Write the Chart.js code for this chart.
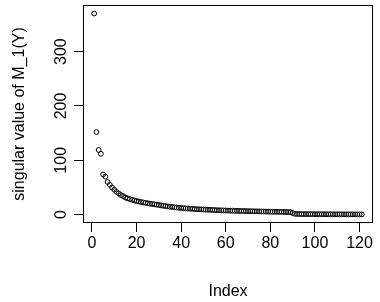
<!DOCTYPE html>
<html>
<head>
<meta charset="utf-8">
<script src="https://cdn.jsdelivr.net/npm/chart.js@4/dist/chart.umd.min.js"></script>
<style>
  html, body { margin: 0; padding: 0; background: #fff; }
  #wrap { width: 380px; height: 302px; }
</style>
</head>
<body>
<div id="wrap"><canvas id="graf"></canvas></div>
<script>
// valores singulares (índice 1..121)
const singularValues = [
  370, 152, 119, 112, 74, 70, 60, 55, 50, 46,
  42, 39, 36, 34, 31.5, 30, 28.6, 27.4, 26.2, 25.1,
  24.2, 23.3, 22.5, 21.7, 21.0, 20.3, 19.6, 19.0, 18.4, 17.8,
  17.0, 16.4, 15.8, 15.2, 14.6, 14.1, 13.6, 13.1, 12.7, 12.3,
  11.9, 11.6, 11.3, 11.0, 10.7, 10.4, 10.1, 9.9, 9.7, 9.5,
  9.3, 9.1, 8.9, 8.7, 8.5, 8.3, 8.1, 8.0, 7.8, 7.7,
  7.5, 7.4, 7.3, 7.1, 7.0, 6.9, 6.8, 6.7, 6.6, 6.5,
  6.4, 6.3, 6.2, 6.1, 6.0, 5.9, 5.8, 5.7, 5.6, 5.5,
  5.4, 5.3, 5.25, 5.2, 5.1, 5.0, 4.9, 4.8, 4.7, 3.0,
  1.5, 1.3, 1.2, 1.15, 1.1, 1.05, 1.0, 0.98, 0.95, 0.92,
  0.9, 0.87, 0.85, 0.82, 0.8, 0.78, 0.76, 0.74, 0.72, 0.7,
  0.68, 0.66, 0.64, 0.62, 0.6, 0.58, 0.56, 0.54, 0.52, 0.5, 0.48
];
const xTicks = [0, 20, 40, 60, 80, 100, 120];
const yTicks = [0, 100, 200, 300];

const FONT = 'Liberation Sans, Arial, Helvetica, sans-serif';

// caja del gráfico + etiquetas del eje y giradas (como en R)
const rBox = {
  id: 'rBox',
  afterDraw (chart) {
    const { ctx, chartArea: a, scales } = chart;
    ctx.save();
    ctx.strokeStyle = '#000';
    ctx.lineWidth = 1;
    ctx.strokeRect(a.left, a.top, a.right - a.left, a.bottom - a.top);
    ctx.fillStyle = '#000';
    ctx.font = '16px ' + FONT;
    ctx.textAlign = 'center';
    ctx.textBaseline = 'middle';
    yTicks.forEach(v => {
      const y = scales.y.getPixelForValue(v);
      ctx.save();
      ctx.translate(61.5, y);
      ctx.rotate(-Math.PI / 2);
      ctx.fillText(String(v), 0, 0);
      ctx.restore();
    });
    ctx.restore();
  }
};

new Chart(document.getElementById('graf'), {
  type: 'scatter',
  data: {
    datasets: [{
      data: singularValues.map((v, i) => ({ x: i + 1, y: v })),
      pointStyle: 'circle',
      pointRadius: 2.4,
      pointBorderWidth: 1,
      pointBorderColor: '#000',
      pointBackgroundColor: 'rgba(0,0,0,0)'
    }]
  },
  options: {
    responsive: true,
    maintainAspectRatio: false,
    animation: false,
    layout: { padding: { top: 5.5, right: 7.5, left: 0, bottom: 0 } },
    plugins: { legend: { display: false }, tooltip: { enabled: false } },
    scales: {
      x: {
        type: 'linear',
        min: -3.8,
        max: 125.8,
        afterBuildTicks: s => { s.ticks = xTicks.map(v => ({ value: v })); },
        afterFit: s => { s.height = 79.5; },
        grid: { drawOnChartArea: false, drawTicks: true, tickLength: 9.5, color: '#000' },
        border: { display: true, color: '#000' },
        ticks: { color: '#000', padding: 2, font: { family: FONT, size: 16 } },
        title: { display: true, text: 'Index', color: '#000', padding: { top: 0, bottom: 1 }, font: { family: FONT, size: 16 } }
      },
      y: {
        type: 'linear',
        min: -14.4,
        max: 384.8,
        afterBuildTicks: s => { s.ticks = yTicks.map(v => ({ value: v })); },
        afterFit: s => { s.width = 83.5; },
        grid: { drawOnChartArea: false, drawTicks: true, tickLength: 9.5, color: '#000' },
        border: { display: true, color: '#000' },
        ticks: { display: false },
        title: { display: true, text: 'singular value of M_1(Y)', color: '#000', padding: { top: 9.5, bottom: 0 }, font: { family: FONT, size: 16 } }
      }
    }
  },
  plugins: [rBox]
});
</script>
</body>
</html>
